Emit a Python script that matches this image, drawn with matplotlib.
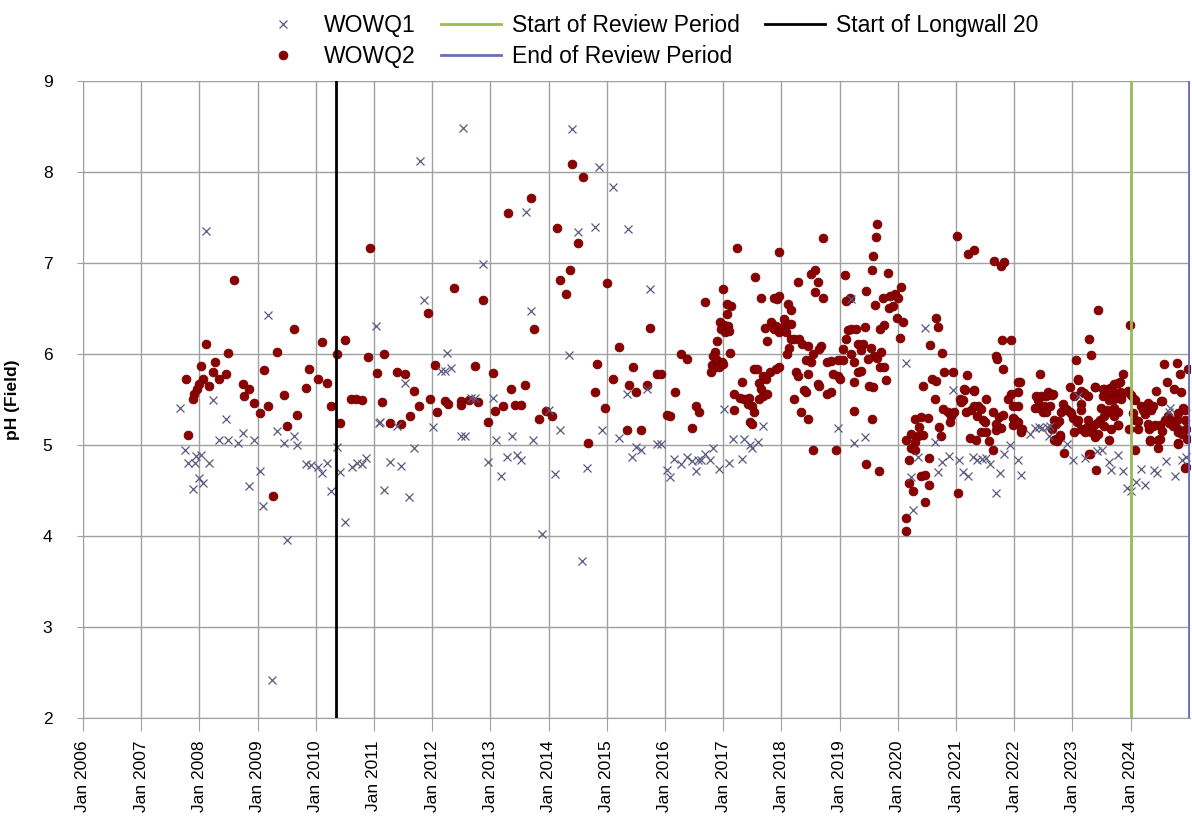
import matplotlib
matplotlib.use('Agg')
import matplotlib.pyplot as plt
import matplotlib.dates as mdates
from datetime import datetime, timedelta

# WOWQ2 readings (decimal year, pH)
q2_2007_2010 = [(2008.59,6.81),(2010.94,7.16),(2009.62,6.27),(2008.11,6.11),(2008.49,6.01),(2009.34,6.02),(2010.10,6.13),(2010.50,6.15),(2010.37,6.00),(2010.90,5.97),(2008.03,5.87),(2008.27,5.91),(2008.23,5.80),(2008.45,5.78),(2007.77,5.72),(2008.33,5.72),(2008.07,5.72),(2008.00,5.67),(2007.96,5.61),(2007.91,5.56),(2007.89,5.51),(2008.17,5.65),(2009.11,5.82),(2008.75,5.67),(2008.86,5.61),(2008.77,5.54),(2008.93,5.46),(2009.18,5.43),(2009.04,5.35),(2009.46,5.55),(2009.89,5.84),(2010.04,5.73),(2010.20,5.68),(2009.84,5.63),(2010.26,5.43),(2009.67,5.33),(2009.51,5.21),(2010.42,5.24),(2010.61,5.51),(2010.69,5.50),(2010.79,5.49),(2007.81,5.11),(2009.26,4.44)]
q2_2011_2016 = [(2014.41,8.09),(2014.59,7.95),(2013.70,7.71),(2013.31,7.55),(2014.14,7.38),(2014.50,7.22),(2014.37,6.92),(2014.19,6.81),(2014.30,6.66),(2015.01,6.78),(2012.37,6.72),(2012.87,6.59),(2011.93,6.45),(2013.75,6.27),(2015.74,6.29),(2015.21,6.08),(2011.18,6.00),(2011.06,5.79),(2011.40,5.80),(2011.54,5.78),(2012.05,5.88),(2012.73,5.87),(2013.05,5.79),(2014.84,5.89),(2015.45,5.86),(2015.10,5.73),(2013.59,5.66),(2013.35,5.61),(2011.68,5.59),(2011.14,5.47),(2011.96,5.51),(2011.78,5.43),(2012.22,5.48),(2012.27,5.45),(2012.50,5.48),(2012.63,5.49),(2012.78,5.47),(2012.49,5.44),(2012.09,5.36),(2011.62,5.32),(2011.28,5.24),(2011.46,5.23),(2013.08,5.37),(2013.21,5.43),(2013.42,5.44),(2013.53,5.44),(2012.95,5.25),(2013.95,5.37),(2013.84,5.29),(2014.05,5.32),(2014.79,5.58),(2014.97,5.41),(2014.67,5.02),(2015.38,5.66),(2015.51,5.58),(2015.69,5.66),(2015.86,5.78),(2015.94,5.78),(2015.34,5.16),(2015.58,5.16),(2016.03,5.33)]
q2_2016_2017 = [(2016.09,5.32),(2016.27,6.00),(2016.37,5.94),(2016.17,5.58),(2016.53,5.43),(2016.58,5.36),(2016.47,5.19),(2016.69,6.57),(2016.99,6.71),(2017.06,6.55),(2017.14,6.53),(2017.06,6.44),(2016.95,6.35),(2017.02,6.32),(2017.08,6.31),(2016.96,6.28),(2017.03,6.24),(2017.10,6.25),(2016.89,6.14),(2016.85,6.02),(2016.82,5.98),(2016.87,5.94),(2016.80,5.88),(2016.83,5.85),(2016.93,5.86),(2016.97,5.91),(2017.00,5.89),(2017.11,6.01),(2016.79,5.80)]
q2_2017_2018 = [(2017.23,7.16),(2017.95,7.12),(2017.55,6.85),(2017.65,6.62),(2017.88,6.62),(2017.93,6.60),(2017.96,6.64),(2018.12,6.55),(2018.16,6.48),(2017.72,6.29),(2017.82,6.35),(2017.91,6.31),(2018.04,6.38),(2018.05,6.31),(2018.11,6.33),(2018.16,6.33),(2017.88,6.27),(2017.96,6.24),(2018.08,6.24),(2017.76,6.14),(2018.16,6.16),(2018.13,6.07),(2018.09,6.00),(2018.22,6.16),(2018.31,6.16),(2018.36,6.11),(2017.53,5.84),(2017.58,5.84),(2017.68,5.76),(2017.73,5.73),(2017.81,5.80),(2017.91,5.84),(2017.96,5.86),(2017.62,5.68),(2017.65,5.62),(2017.33,5.69),(2017.18,5.56),(2017.28,5.52),(2017.36,5.51),(2017.45,5.52),(2017.62,5.51),(2017.68,5.54),(2017.76,5.56),(2017.42,5.45),(2017.49,5.43),(2017.52,5.36),(2017.18,5.39),(2017.46,5.25),(2017.50,5.23),(2018.25,5.80),(2018.28,5.76),(2018.39,5.60),(2018.42,5.58),(2018.22,5.51),(2018.34,5.36),(2018.45,5.29)]
q2_2018_2019 = [(2018.72,7.27),(2018.28,6.79),(2018.51,6.88),(2018.57,6.92),(2018.62,6.79),(2018.58,6.68),(2018.71,6.62),(2018.46,6.09),(2018.54,6.00),(2018.68,6.09),(2018.65,6.05),(2018.42,5.93),(2018.51,5.91),(2018.45,5.78),(2018.62,5.67),(2018.65,5.65),(2018.79,5.91),(2018.85,5.92),(2018.97,5.93),(2019.05,5.93),(2018.79,5.56),(2018.85,5.58),(2018.97,5.76),(2019.01,5.73),(2018.88,5.78),(2018.55,4.94),(2018.93,4.95)]
q2_2019_2020 = [(2019.09,6.87),(2019.11,6.58),(2019.18,6.61),(2019.45,6.69),(2019.61,6.54),(2019.14,6.26),(2019.19,6.28),(2019.28,6.27),(2019.11,6.16),(2019.31,6.11),(2019.41,6.11),(2019.54,6.07),(2019.05,6.05),(2019.19,6.00),(2019.37,6.04),(2019.59,5.98),(2019.48,5.95),(2019.65,5.96),(2019.25,5.91),(2019.31,5.80),(2019.37,5.81),(2019.25,5.69),(2019.51,5.65),(2019.25,5.37),(2019.56,5.29),(2019.45,4.79),(2019.68,4.71),(2019.62,7.28),(2019.58,7.08),(2019.56,6.92),(2019.64,7.43),(2019.84,6.89),(2019.72,6.02),(2019.70,5.86),(2019.76,5.86),(2019.80,5.71),(2019.75,6.61),(2019.87,6.64),(2019.95,6.66),(2020.01,6.62),(2019.85,6.51),(2019.92,6.53),(2020.05,6.74),(2019.99,6.40),(2020.09,6.35),(2020.04,6.18),(2019.77,6.32),(2019.69,6.28),(2019.57,5.64),(2019.44,6.30)]
q2_2020_2021 = [(2020.65,6.40),(2020.69,6.30),(2020.56,6.10),(2020.76,6.01),(2020.43,5.65),(2020.59,5.73),(2020.66,5.70),(2020.80,5.80),(2020.94,5.80),(2021.19,5.77),(2020.63,5.50),(2021.06,5.50),(2021.11,5.49),(2021.15,5.60),(2021.31,5.60),(2020.77,5.40),(2020.86,5.36),(2020.91,5.32),(2020.90,5.25),(2020.97,5.36),(2021.09,5.47),(2021.17,5.36),(2021.26,5.39),(2021.31,5.43),(2021.37,5.43),(2021.43,5.40),(2021.51,5.50),(2021.36,5.32),(2021.46,5.28),(2021.49,5.25),(2021.63,5.36),(2021.73,5.31),(2021.94,5.56),(2022.06,5.58),(2021.89,5.50),(2022.10,5.69),(2021.69,5.17),(2021.77,5.19),(2022.00,5.29),(2021.98,5.22),(2022.14,5.18),(2022.11,5.14),(2021.43,5.14),(2021.51,5.14),(2021.57,5.04),(2021.64,4.95),(2021.24,5.08),(2021.34,5.06),(2021.79,6.15),(2021.95,6.15),(2021.69,5.98),(2021.70,5.94),(2021.81,5.84),(2020.29,5.29),(2020.39,5.31),(2020.51,5.30),(2020.36,5.20),(2020.70,5.20),(2020.34,5.10),(2020.43,5.11),(2020.23,5.12),(2020.14,5.06),(2020.30,5.03),(2020.22,4.97),(2020.29,4.95),(2020.19,4.84),(2020.74,5.10),(2020.54,4.86),(2020.40,4.66),(2020.47,4.67),(2020.54,4.56),(2020.20,4.58),(2020.26,4.49),(2020.46,4.37),(2020.14,4.20),(2020.14,4.05),(2021.04,4.47),(2021.02,7.30),(2021.20,7.10),(2021.31,7.14),(2021.65,7.02),(2021.77,6.97),(2021.83,7.01),(2021.14,5.61),(2021.30,5.59),(2021.80,5.33),(2021.69,5.23),(2021.97,5.30),(2022.06,5.25),(2022.12,5.18),(2022.06,5.43),(2021.97,5.43)]
q2_2022_2024 = [(2022.07,5.69),(2022.45,5.78),(2023.06,5.93),(2023.28,6.17),(2023.32,5.99),(2023.44,6.48),(2023.99,6.32),(2023.87,5.78),(2023.09,5.71),(2022.95,5.64),(2023.38,5.64),(2023.55,5.61),(2023.64,5.63),(2023.72,5.67),(2023.81,5.69),(2023.63,5.55),(2023.69,5.58),(2023.81,5.58),(2023.95,5.59),(2024.00,5.55),(2023.15,5.59),(2023.26,5.54),(2024.44,5.59),(2024.58,5.89),(2024.80,5.90),(2024.98,5.84),(2024.84,5.78),(2024.62,5.69),(2024.74,5.61),(2024.87,5.58),(2024.52,5.48),(2024.07,5.49),(2024.18,5.43),(2024.30,5.41),(2024.24,5.34),(2024.35,5.39),(2024.04,5.35),(2024.07,5.27),(2023.98,5.18),(2024.12,5.18),(2024.32,5.18),(2024.41,5.22),(2024.50,5.22),(2024.64,5.32),(2024.70,5.27),(2024.75,5.23),(2024.90,5.41),(2024.93,5.27),(2024.81,5.18),(2024.95,5.18),(2024.34,5.05),(2024.50,5.07),(2024.47,4.97),(2024.82,5.02),(2024.97,5.07),(2024.07,4.94),(2024.95,4.76),(2023.40,4.73),(2023.31,4.90),(2022.86,4.91),(2022.71,5.07),(2022.78,5.09),(2022.65,5.18),(2022.40,5.49),(2022.46,5.54),(2022.58,5.58),(2022.66,5.56),(2022.43,5.41),(2022.49,5.36),(2022.69,5.28),(2022.81,5.36),(2022.83,5.45),(2022.89,5.40),(2022.95,5.36),(2023.01,5.30),(2023.08,5.25),(2023.15,5.45),(2023.14,5.38),(2023.03,5.14),(2023.15,5.18),(2023.21,5.14),(2023.26,5.28),(2023.35,5.21),(2023.44,5.12),(2023.38,5.09),(2023.47,5.28),(2023.55,5.32),(2023.64,5.36),(2023.72,5.41),(2023.78,5.36),(2023.66,5.18),(2023.78,5.22),(2023.84,5.50),(2023.62,5.06),(2023.54,5.21)]
q2_2022_2024b = [(2022.38,5.54),(2022.55,5.54),(2022.64,5.55),(2022.51,5.43),(2022.62,5.43),(2022.36,5.41),(2022.54,5.36),(2022.77,5.26),(2022.71,5.23),(2022.79,5.11),(2022.68,5.06),(2022.74,5.04),(2023.03,5.54),(2023.10,5.72),(2023.20,5.57),(2023.38,5.64),(2022.91,5.39),(2022.97,5.35),(2023.09,5.28),(2023.23,5.19),(2023.32,5.14),(2023.52,5.62),(2023.60,5.59),(2023.78,5.68),(2023.52,5.54),(2023.62,5.49),(2023.72,5.50),(2023.87,5.57),(2024.05,5.51),(2023.49,5.41),(2023.60,5.38),(2023.72,5.32),(2023.78,5.22),(2023.43,5.24),(2023.29,4.90),(2024.13,5.26),(2024.21,5.39),(2024.30,5.46),(2024.39,5.43),(2024.53,5.48),(2024.30,5.23),(2024.39,5.21),(2024.53,5.15),(2024.59,5.28),(2024.65,5.24),(2024.73,5.21),(2024.79,5.28),(2024.82,5.35),(2024.94,5.39),(2024.82,5.14),(2024.88,5.12),(2024.47,5.06),(2024.33,5.04),(2024.82,5.01),(2024.94,4.75)]

# WOWQ1 readings (decimal year, pH)
q1_2007_2011 = [(2008.11,7.35),(2009.18,6.43),(2011.03,6.31),(2007.66,5.41),(2008.23,5.49),(2008.45,5.29),(2008.33,5.06),(2008.49,5.06),(2008.66,5.02),(2008.75,5.13),(2008.93,5.06),(2009.34,5.15),(2009.62,5.10),(2009.46,5.02),(2009.67,5.00),(2007.76,4.94),(2007.94,4.88),(2008.03,4.89),(2007.80,4.80),(2007.93,4.80),(2008.17,4.80),(2008.00,4.64),(2008.07,4.58),(2007.89,4.52),(2009.04,4.71),(2008.86,4.55),(2009.09,4.33),(2009.50,3.96),(2009.83,4.79),(2009.91,4.78),(2010.04,4.76),(2010.20,4.80),(2010.10,4.69),(2010.37,4.98),(2010.42,4.70),(2010.26,4.49),(2010.50,4.15),(2010.63,4.76),(2010.71,4.80),(2010.79,4.79),(2010.87,4.86),(2011.09,5.24),(2009.24,2.42)]
q1_2011_2016 = [(2012.53,8.48),(2014.41,8.47),(2011.80,8.12),(2014.87,8.05),(2015.10,7.84),(2013.61,7.56),(2014.50,7.34),(2014.79,7.40),(2015.37,7.37),(2012.87,6.99),(2011.86,6.59),(2013.70,6.47),(2015.74,6.71),(2012.26,6.01),(2014.35,5.99),(2012.15,5.81),(2012.22,5.81),(2012.33,5.85),(2011.54,5.68),(2013.04,5.52),(2012.67,5.52),(2012.74,5.52),(2011.11,5.25),(2012.01,5.20),(2011.40,5.21),(2014.01,5.38),(2014.19,5.17),(2015.34,5.56),(2015.69,5.62),(2014.91,5.17),(2012.49,5.10),(2012.57,5.10),(2013.09,5.05),(2013.37,5.10),(2013.74,5.06),(2015.21,5.08),(2011.68,4.97),(2011.28,4.81),(2011.46,4.77),(2011.17,4.51),(2011.60,4.43),(2012.95,4.81),(2013.18,4.66),(2013.29,4.87),(2013.45,4.89),(2013.53,4.84),(2014.11,4.68),(2014.66,4.75),(2015.51,4.98),(2015.58,4.94),(2015.44,4.87),(2015.86,5.01),(2015.93,5.01),(2013.88,4.02),(2014.57,3.73)]
q1_2016_2020 = [(2016.03,4.72),(2016.09,4.65),(2016.16,4.85),(2016.27,4.79),(2016.37,4.87),(2016.47,4.82),(2016.56,4.84),(2016.53,4.71),(2016.62,4.84),(2016.69,4.90),(2016.78,4.83),(2016.83,4.97),(2016.93,4.74),(2017.01,5.40),(2017.09,4.80),(2017.16,5.07),(2017.35,5.07),(2017.32,4.85),(2017.46,5.00),(2017.50,4.97),(2017.59,5.03),(2017.69,5.21),(2018.97,5.19),(2019.24,5.02),(2019.44,5.09),(2019.19,6.60)]
q1_2020_2022 = [(2020.46,6.29),(2020.14,5.90),(2020.94,5.60),(2022.27,5.12),(2020.63,5.03),(2020.34,4.87),(2020.87,4.88),(2020.76,4.81),(2020.69,4.70),(2021.05,4.83),(2021.11,4.70),(2021.21,4.66),(2021.29,4.87),(2021.36,4.83),(2021.44,4.85),(2021.51,4.86),(2021.59,4.79),(2021.83,4.90),(2021.93,5.00),(2021.76,4.69),(2021.69,4.47),(2022.07,4.84),(2022.11,4.67),(2020.22,4.65),(2020.26,4.29)]
q1_2022_2024 = [(2023.10,5.54),(2022.36,5.19),(2022.42,5.20),(2022.48,5.19),(2022.57,5.20),(2022.62,5.21),(2022.60,5.10),(2022.90,5.01),(2023.01,4.84),(2023.21,4.86),(2023.42,4.93),(2023.51,4.95),(2023.78,4.89),(2023.62,4.81),(2023.66,4.73),(2023.87,4.71),(2023.94,4.53),(2024.01,4.49),(2024.10,4.59),(2024.25,4.56),(2024.18,4.74),(2024.40,4.72),(2024.45,4.69),(2024.60,4.82),(2024.76,4.66),(2024.88,4.84),(2024.95,4.87),(2024.68,5.41),(2024.65,5.36)]

longwall_start = datetime(2010, 5, 10)
review_start = datetime(2024, 1, 1)
review_end = datetime(2024, 12, 31)


def to_date(y):
    year = int(y)
    start = datetime(year, 1, 1)
    days = (datetime(year + 1, 1, 1) - start).days
    return start + timedelta(days=(y - year) * days)


def unpack(*chunks):
    pts = [p for c in chunks for p in c]
    return [to_date(p[0]) for p in pts], [p[1] for p in pts]


q2_t, q2_ph = unpack(q2_2007_2010, q2_2011_2016, q2_2016_2017, q2_2017_2018, q2_2018_2019,
                     q2_2019_2020, q2_2020_2021, q2_2022_2024, q2_2022_2024b)
q1_t, q1_ph = unpack(q1_2007_2011, q1_2011_2016, q1_2016_2020, q1_2020_2022, q1_2022_2024)

plt.rcParams['font.family'] = ['Liberation Sans', 'DejaVu Sans']

fig = plt.figure(figsize=(11.92, 8.22), dpi=100)
ax = fig.add_axes([0.0696, 0.1265, 0.9285, 0.775])

h2, = ax.plot(q2_t, q2_ph, linestyle='none', marker='o', markersize=6.4,
              color='#8b0000', markeredgecolor='#6e0000', markeredgewidth=0.5, label='WOWQ2')
h1, = ax.plot(q1_t, q1_ph, linestyle='none', marker='x', markersize=5.5,
              color='#5a5a80', markeredgewidth=0.9, label='WOWQ1')

hr = ax.axvline(review_start, color='#9bbb59', linewidth=2, label='Start of Review Period')
he = ax.axvline(review_end, color='#6b6bc0', linewidth=2, label='End of Review Period')
hl = ax.axvline(longwall_start, color='black', linewidth=2, label='Start of Longwall 20')

ax.set_xlim(datetime(2006, 1, 1), datetime(2025, 1, 6))
ax.set_ylim(2, 9)
ax.set_yticks(range(2, 10))

ax.set_xticks([datetime(y, 1, 1) for y in range(2006, 2025)])
ax.xaxis.set_major_formatter(mdates.DateFormatter('%b %Y'))

ax.tick_params(axis='x', labelrotation=90, labelsize=12.5, length=9, color='#a0a0a0', pad=7)
ax.tick_params(axis='y', labelsize=12.5, length=4, color='#a0a0a0', pad=18)

ax.grid(True, color='#a0a0a0', linewidth=1)
ax.set_axisbelow(True)
for s in ax.spines.values():
    s.set_color('#a0a0a0')
ax.spines['top'].set_visible(False)
ax.spines['right'].set_visible(False)

ax.set_ylabel('pH (Field)', fontsize=12.5, fontweight='bold')
ax.yaxis.set_label_coords(-0.057, 0.5)

fig.legend(handles=[h1, h2, hr, he, hl], loc='upper center', bbox_to_anchor=(0.542, 1.008),
           ncol=3, frameon=False, fontsize=16.5, handlelength=2.6, columnspacing=1.1,
           handletextpad=0.5, labelspacing=0.35)

plt.savefig('out.png', dpi=100)
